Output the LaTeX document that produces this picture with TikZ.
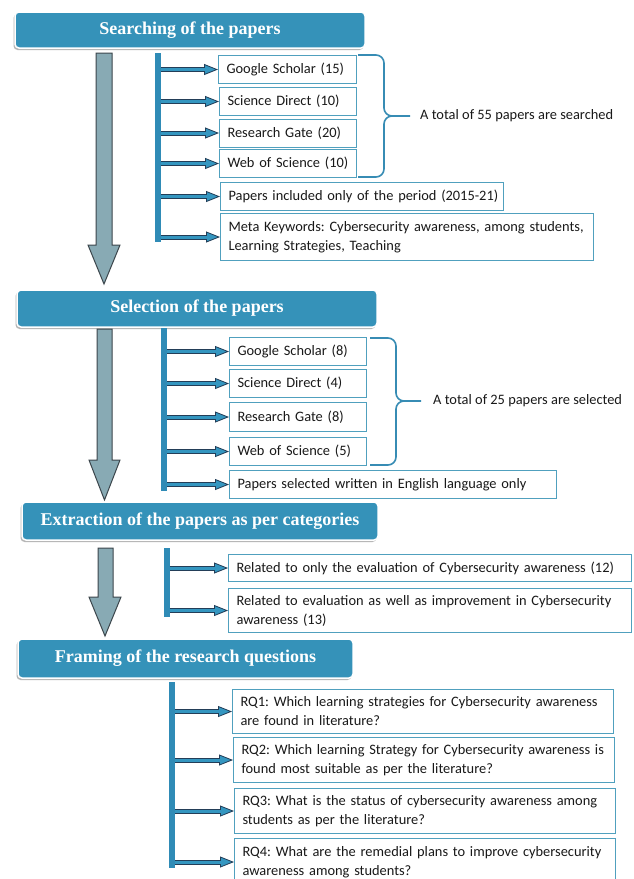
\documentclass[tikz,border=0pt]{standalone}
\usepackage{fontspec}
\setmainfont{Carlito}
\newfontfamily\hdrfont{Liberation Serif}
\usetikzlibrary{arrows.meta,shadows}
\definecolor{hdrblue}{RGB}{53,146,185}
\definecolor{barblue}{RGB}{47,139,182}
\definecolor{arrowblue}{RGB}{52,150,192}
\definecolor{arrowline}{RGB}{35,62,88}
\definecolor{boxc}{RGB}{80,160,190}
\definecolor{bracec}{RGB}{55,140,180}
\definecolor{greyfill}{RGB}{136,170,180}
\definecolor{greyline}{RGB}{60,70,76}
\definecolor{txt}{RGB}{25,25,25}
\frenchspacing
\hfuzz=50pt
\begin{document}
\begin{tikzpicture}[x=1pt,y=-1pt,
  hdr/.style={fill=hdrblue, draw=white, line width=1.5pt, rounded corners=4pt,
    drop shadow={shadow xshift=-1.5pt, shadow yshift=-2pt, fill=black!35, opacity=0.8},
    text=white, font=\hdrfont\bfseries\fontsize{18}{20}\selectfont, inner sep=0pt},
  bar/.style={fill=barblue, inner sep=0pt, outer sep=0pt, anchor=north west},
  box/.style={draw=boxc, line width=1pt, fill=white, anchor=north west, inner xsep=8pt,
    inner ysep=0pt, align=left, text=txt, font=\fontsize{14.4}{19}\selectfont},
  lbl/.style={anchor=west, text=txt, font=\fontsize{14.4}{19}\selectfont, inner sep=0pt},
  conn/.style={draw=arrowline, line width=5pt,
    -{Triangle[length=14pt,width=11pt,line width=0.8pt,fill=arrowblue]},
    postaction={draw=arrowblue, line width=3pt, shorten >=13pt, -}},
  bigarrow/.style={fill=greyfill, draw=greyline, line width=1pt, line join=miter},
  bracestyle/.style={draw=bracec, line width=1.6pt}
]
\clip (0,0) rectangle (634,879);
\fill[white] (0,0) rectangle (634,879);

% ---------- Section 1 ----------
\node[hdr, minimum width=350pt, minimum height=36pt] (h1) at (190,30) {Searching of the papers};
\draw[bigarrow] (96,53) -- (112,53) -- (112,245) -- (120,245) -- (104,284) -- (88,245) -- (96,245) -- cycle;
\node[bar, minimum width=6pt, minimum height=189pt] (b1) at (155,53) {};
\node[box, text width=122pt, minimum height=28pt] (g1) at (218,55) {Google Scholar (15)};
\node[box, text width=121pt, minimum height=28pt] (s1) at (219,87) {Science Direct (10)};
\node[box, text width=121pt, minimum height=28pt] (r1) at (219,118.5) {Research Gate (20)};
\node[box, text width=121pt, minimum height=28pt] (w1) at (219,149) {Web of Science (10)};
\node[box, text width=267pt, minimum height=28pt] (p1) at (220,182) {\mbox{Papers included only of the period (2015-21)}};
\node[box, text width=357pt, minimum height=47pt] (m1) at (220,213) {Meta Keywords: Cybersecurity awareness, among students,\\Learning Strategies, Teaching};
\foreach \n in {g1,s1,r1,w1,p1,m1} \draw[conn] (b1.east |- \n.west) -- (\n.west);
\node[lbl] (t1) at (420,116) {A total of 55 papers are searched};
\draw[bracestyle] (358,55) -- (376,55) to[out=0,in=90] (384,63) -- (384,108) to[out=-90,in=180] (392,116) -- (410,116);
\draw[bracestyle] (392,116) to[out=180,in=90] (384,124) -- (384,169) to[out=-90,in=0] (376,177) -- (358,177);

% ---------- Section 2 ----------
\node[hdr, minimum width=360pt, minimum height=37pt] (h2) at (197,308.5) {Selection of the papers};
\draw[bigarrow] (97,329) -- (112,329) -- (112,460) -- (120,460) -- (104.5,500) -- (89,460) -- (97,460) -- cycle;
\node[bar, minimum width=6pt, minimum height=163pt] (b2) at (161,328) {};
\node[box, text width=121pt, minimum height=28pt] (g2) at (229,337) {Google Scholar (8)};
\node[box, text width=121pt, minimum height=28pt] (s2) at (229,369) {Science Direct (4)};
\node[box, text width=121pt, minimum height=29pt] (r2) at (229,402) {Research Gate (8)};
\node[box, text width=121pt, minimum height=28pt] (w2) at (229,437) {Web of Science (5)};
\node[box, text width=311pt, minimum height=28pt] (p2) at (229,470) {\mbox{Papers selected written in English language only}};
\foreach \n in {g2,s2,r2,w2,p2} \draw[conn] (b2.east |- \n.west) -- (\n.west);
\node[lbl] (t2) at (433,401) {A total of 25 papers are selected};
\draw[bracestyle] (370,338) -- (388,338) to[out=0,in=90] (396,346) -- (396,393) to[out=-90,in=180] (404,401) -- (421,401);
\draw[bracestyle] (404,401) to[out=180,in=90] (396,409) -- (396,457) to[out=-90,in=0] (388,465) -- (370,465);

% ---------- Section 3 ----------
\node[hdr, minimum width=356pt, minimum height=38pt] (h3) at (200,521) {Extraction of the papers as per categories};
\draw[bigarrow] (98,548) -- (113,548) -- (113,597) -- (121,597) -- (105,636) -- (89,597) -- (98,597) -- cycle;
\node[bar, minimum width=6pt, minimum height=69pt] (b3) at (163.5,548) {};
\node[box, text width=387pt, minimum height=27pt] (c1) at (228,554) {\mbox{Related to only the evaluation of Cybersecurity awareness (12)}};
\node[box, text width=387pt, minimum height=44pt] (c2) at (228,588) {Related to evaluation as well as improvement in Cybersecurity\\awareness (13)};
\foreach \n in {c1,c2} \draw[conn] (b3.east |- \n.west) -- (\n.west);

% ---------- Section 4 ----------
\node[hdr, minimum width=335pt, minimum height=39pt] (h4) at (185.5,658.5) {Framing of the research questions};
\node[bar, minimum width=6pt, minimum height=186pt] (b4) at (169,682) {};
\node[box, text width=365pt, minimum height=44pt] (q1) at (232,689) {RQ1: Which learning strategies for Cybersecurity awareness\\are found in literature?};
\node[box, text width=365pt, minimum height=45pt] (q2) at (233,737) {RQ2: Which learning Strategy for Cybersecurity awareness is\\found most suitable as per the literature?};
\node[box, text width=365pt, minimum height=45pt] (q3) at (234,788) {RQ3: What is the status of cybersecurity awareness among\\students as per the literature?};
\node[box, text width=365pt, minimum height=47pt] (q4) at (234,838) {RQ4: What are the remedial plans to improve cybersecurity\\awareness among students?};
\foreach \n in {q1,q2,q3,q4} \draw[conn] (b4.east |- \n.west) -- (\n.west);
\end{tikzpicture}
\end{document}
